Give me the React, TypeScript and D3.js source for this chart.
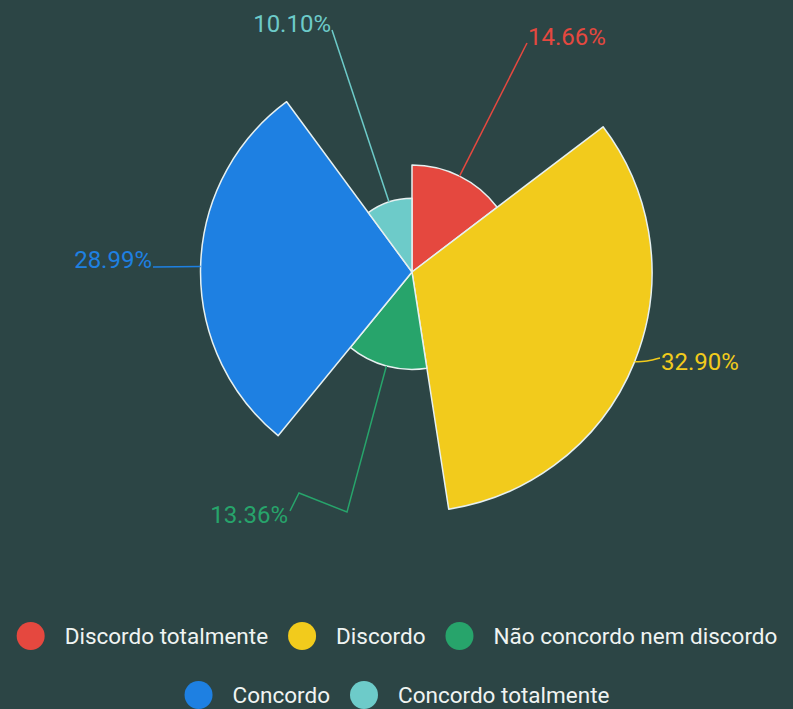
import React, { useEffect, useRef } from 'react';
import * as d3 from 'd3';

const categories = ['Discordo totalmente', 'Discordo', 'Não concordo nem discordo', 'Concordo', 'Concordo totalmente'];
const values = [14.66, 32.90, 13.36, 28.99, 10.10];
const colors = ['#e5483f', '#f2cb1c', '#27a46b', '#1e80e2', '#6dcbc9'];
const labelTexts = values.map((v) => v.toFixed(2) + '%');
const legendRows = [[0, 1, 2], [3, 4]];

// layout only: leader line bend/end points and label text placement
const labelLines: [number, number][][] = [
  [[527, 43]],
  [[647, 361], [660, 358]],
  [[347, 512], [299, 493], [290, 511]],
  [[153, 267]],
  [[332, 30]],
];
const labelPlace = [
  { x: 528, y: 45, anchor: 'start' },
  { x: 661, y: 370, anchor: 'start' },
  { x: 288, y: 523, anchor: 'end' },
  { x: 152, y: 268, anchor: 'end' },
  { x: 331, y: 32, anchor: 'end' },
];

const W = 793;
const H = 709;
const CX = 412;
const CY = 272;
const RMAX = 240;

export default function App() {
  const ref = useRef<SVGSVGElement>(null);
  useEffect(() => {
    const svg = d3.select(ref.current);
    svg.selectAll('*').remove();
    svg.append('rect').attr('width', W).attr('height', H).attr('fill', '#2c4545');

    const rScale = d3.scaleLinear().domain([0, d3.max(values) as number]).range([0, RMAX]);
    const pie = d3.pie<number>().sort(null).value((d) => d);
    const arcs = pie(values);
    const g = svg.append('g').attr('transform', `translate(${CX},${CY})`);
    g.selectAll('path.slice')
      .data(arcs)
      .join('path')
      .attr('class', 'slice')
      .attr('d', (d) => d3.arc<any>().innerRadius(0).outerRadius(rScale(d.data))(d) as string)
      .attr('fill', (_, i) => colors[i])
      .attr('stroke', '#e6f0f0')
      .attr('stroke-width', 1.5)
      .attr('stroke-linejoin', 'round');

    const line = d3.line().curve(d3.curveLinear);
    const smooth = d3.line().curve(d3.curveNatural);
    arcs.forEach((a, i) => {
      const mid = (a.startAngle + a.endAngle) / 2;
      const r = rScale(a.data);
      const anchor: [number, number] = [CX + r * Math.sin(mid), CY - r * Math.cos(mid)];
      const pts = [anchor, ...labelLines[i]];
      svg.append('path')
        .attr('d', (i === 1 ? smooth : line)(pts) as string)
        .attr('fill', 'none')
        .attr('stroke', colors[i])
        .attr('stroke-width', 1.5);
      const p = labelPlace[i];
      svg.append('text')
        .attr('x', p.x)
        .attr('y', p.y)
        .attr('text-anchor', p.anchor)
        .attr('font-family', 'Roboto, sans-serif')
        .attr('font-size', 24)
        .attr('fill', colors[i])
        .text(labelTexts[i]);
    });

    // legend
    const rowY = [636, 695];
    const gapIconText = 34;
    const gapTextIcon = 34;
    const iconR = 14;
    legendRows.forEach((row, ri) => {
      const lg = svg.append('g');
      let x = 0;
      row.forEach((ci, k) => {
        if (k > 0) x += gapTextIcon;
        lg.append('circle').attr('cx', x).attr('cy', rowY[ri]).attr('r', iconR).attr('fill', colors[ci]);
        x += gapIconText;
        const t = lg.append('text')
          .attr('x', x)
          .attr('y', rowY[ri])
          .attr('dy', '0.36em')
          .attr('font-family', 'Roboto, sans-serif')
          .attr('font-size', 22.5)
          .attr('fill', '#f0f4f2')
          .text(categories[ci]);
        x += (t.node() as SVGTextElement).getComputedTextLength();
      });
      const total = x + iconR;
      const left = 397 - total / 2 + iconR;
      lg.attr('transform', `translate(${left},0)`);
    });
  }, []);
  return (
    <svg
      ref={ref}
      width={W}
      height={H}
      style={{ position: 'absolute', left: 0, top: 0, display: 'block' }}
    />
  );
}
